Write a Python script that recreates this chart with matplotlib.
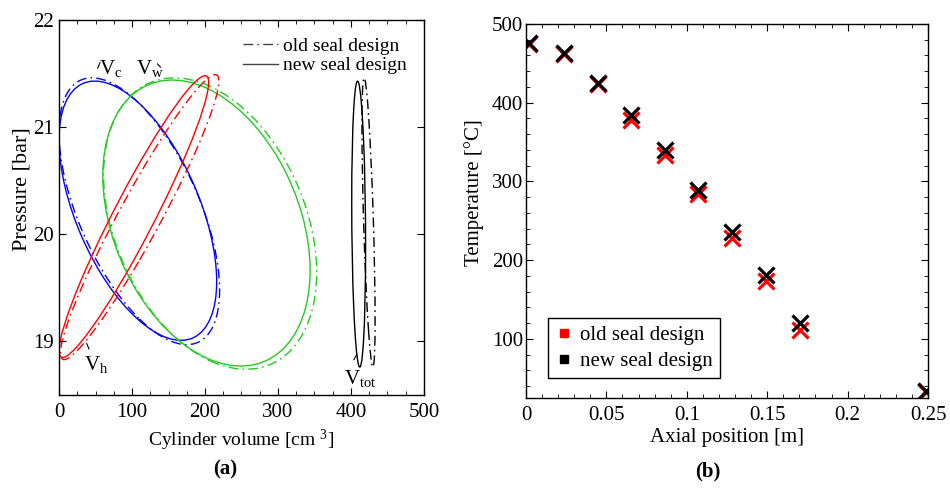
import numpy as np
import matplotlib
matplotlib.use("Agg")
import matplotlib.pyplot as plt
from matplotlib.patches import Circle
from matplotlib.transforms import Affine2D
from matplotlib.lines import Line2D
from matplotlib.ticker import MultipleLocator

plt.rcParams['font.family'] = ['Liberation Serif', 'DejaVu Serif']
plt.rcParams['mathtext.fontset'] = 'stix'
plt.rcParams['xtick.direction'] = 'in'
plt.rcParams['ytick.direction'] = 'in'

# ---------------- Panel (a): P-V loops ----------------
loop_names = ['Vc', 'Vw', 'Vh', 'Vtot']
loop_colors = ['#0000ff', '#22cc22', '#ff0000', '#000000']
# new seal design (solid)
new_v_min = [0, 60, 0, 401]
new_v_max = [216, 344, 205, 420]
new_p_min = [19.01, 18.77, 18.85, 18.76]
new_p_max = [21.43, 21.44, 21.48, 21.43]
new_v_at_pmax = [49, 155, 200, 409]
# old seal design (dash-dot)
old_v_min = [0, 61, 2, 415]
old_v_max = [220, 353, 219, 433]
old_p_min = [18.97, 18.74, 18.83, 18.76]
old_p_max = [21.46, 21.46, 21.49, 21.46]
old_v_at_pmax = [45, 158, 214, 418]

# ---------------- Panel (b): temperatures ----------------
axial_pos = [0.0017, 0.0234, 0.045, 0.065, 0.0867, 0.107, 0.128, 0.149, 0.1705, 0.249]
temp_old = [474, 462, 424, 378, 334, 284, 228, 173, 111, 33]
temp_new = [476, 463, 425, 384, 340, 289, 236, 181, 120, 34]

W, H = 950, 493
fig = plt.figure(figsize=(W / 100, H / 100), dpi=100)
axa = fig.add_axes([59 / W, 1 - 395 / H, (424 - 59) / W, (395 - 20) / H])
axb = fig.add_axes([526 / W, 1 - 398 / H, (928 - 526) / W, (398 - 24) / H])

dashdot = (0, (7, 3, 1.2, 3))


def draw_loop(ax, vmin, vmax, pmin, pmax, vpk, color, ls):
    cx = 0.5 * (vmin + vmax)
    a = 0.5 * (vmax - vmin)
    cy = 0.5 * (pmin + pmax)
    b = 0.5 * (pmax - pmin)
    c = np.clip((vpk - cx) / a, -1, 1)
    s = np.sqrt(1 - c * c)
    tr = Affine2D(np.array([[a, 0, cx], [b * c, b * s, cy], [0, 0, 1]]))
    patch = Circle((0, 0), 1, transform=tr + ax.transData, fill=False,
                   edgecolor=color, linewidth=1.0, linestyle=ls)
    ax.add_patch(patch)


for i in range(len(loop_names)):
    draw_loop(axa, old_v_min[i], old_v_max[i], old_p_min[i], old_p_max[i],
              old_v_at_pmax[i], loop_colors[i], dashdot)
    draw_loop(axa, new_v_min[i], new_v_max[i], new_p_min[i], new_p_max[i],
              new_v_at_pmax[i], loop_colors[i], '-')

axa.set_xlim(0, 500)
axa.set_ylim(18.5, 22)
axa.xaxis.set_major_locator(MultipleLocator(100))
axa.xaxis.set_minor_locator(MultipleLocator(25))
axa.yaxis.set_major_locator(MultipleLocator(1))
axa.tick_params(which='both', top=True, right=True, labelsize=15)
axa.tick_params(axis='x', pad=6)
axa.tick_params(axis='y', pad=4)
axa.tick_params(which='major', length=5)
axa.tick_params(which='minor', length=3)
axa.set_xlabel(r'Cylinder volume [cm $\mathregular{^3}$]', fontsize=14, labelpad=4)
axa.set_ylabel('Pressure [bar]', fontsize=16)
axa.yaxis.set_label_coords(-0.075, 0.55)

lab_kw = dict(fontsize=15, color='black')
axa.text(55, 21.5, r'$\mathregular{V_c}$', **lab_kw)
axa.text(106, 21.5, r'$\mathregular{V_w}$', **lab_kw)
axa.text(34, 18.73, r'$\mathregular{V_h}$', **lab_kw)
axa.text(390, 18.6, r'$\mathregular{V_{tot}}$', **lab_kw)
# small leader ticks
axa.plot([53, 56], [21.55, 21.60], color='black', lw=0.8)
axa.plot([135, 139], [21.59, 21.56], color='black', lw=0.8)
axa.plot([38, 41], [18.98, 18.93], color='black', lw=0.8)
axa.plot([404, 408], [18.83, 18.88], color='black', lw=0.8)

handles_a = [Line2D([], [], color='#444444', lw=1.0, linestyle=dashdot),
             Line2D([], [], color='#444444', lw=1.0, linestyle='-')]
axa.legend(handles_a, ['old seal design', 'new seal design'], loc='upper right',
           frameon=False, fontsize=14, handlelength=1.75, handletextpad=0.3,
           labelspacing=0.1, borderaxespad=0.0, bbox_to_anchor=(0.975, 0.975))

# ---------------- Panel (b) drawing ----------------
axb.plot(axial_pos, temp_old, linestyle='none', marker='x', color='#ff0000',
         markersize=11, markeredgewidth=2.3)
axb.plot(axial_pos, temp_new, linestyle='none', marker='x', color='black',
         markersize=11, markeredgewidth=2.3)
axb.set_xlim(0, 0.25)
axb.set_ylim(25, 500)
axb.xaxis.set_minor_locator(MultipleLocator(0.01))
axb.yaxis.set_major_locator(MultipleLocator(100))
axb.yaxis.set_minor_locator(MultipleLocator(20))
axb.set_xticks([0, 0.05, 0.1, 0.15, 0.2, 0.25])
axb.set_xticklabels(['0', '0.05', '0.1', '0.15', '0.2', '0.25'])
axb.tick_params(which='both', top=True, right=True, labelsize=15)
axb.tick_params(axis='x', pad=6)
axb.tick_params(axis='y', pad=2)
axb.tick_params(which='major', length=5)
axb.tick_params(which='minor', length=3)
axb.set_xlabel('Axial position [m]', fontsize=15, labelpad=2)
axb.set_ylabel('Temperature [°C]', fontsize=15)
axb.yaxis.set_label_coords(-0.105, 0.548)

handles_b = [Line2D([], [], linestyle='none', marker='s', color='#ff0000', markersize=6),
             Line2D([], [], linestyle='none', marker='s', color='black', markersize=6)]
leg = axb.legend(handles_b, ['old seal design', 'new seal design'], loc='lower left',
                 bbox_to_anchor=(0.055, 0.053), fontsize=15, fancybox=False,
                 handlelength=0.8, handletextpad=0.4, borderpad=0.35,
                 labelspacing=0.3, borderaxespad=0, framealpha=1)
leg.get_frame().set_edgecolor('black')
leg.get_frame().set_linewidth(1.0)

for ax in (axa, axb):
    for sp in ax.spines.values():
        sp.set_linewidth(1.0)

fig.text(225 / W, 1 - 469 / H, '(a)', fontsize=15, fontweight='bold', ha='center', va='center')
fig.text(708 / W, 1 - 471 / H, '(b)', fontsize=15, fontweight='bold', ha='center', va='center')

fig.savefig('out.png', dpi=100)
